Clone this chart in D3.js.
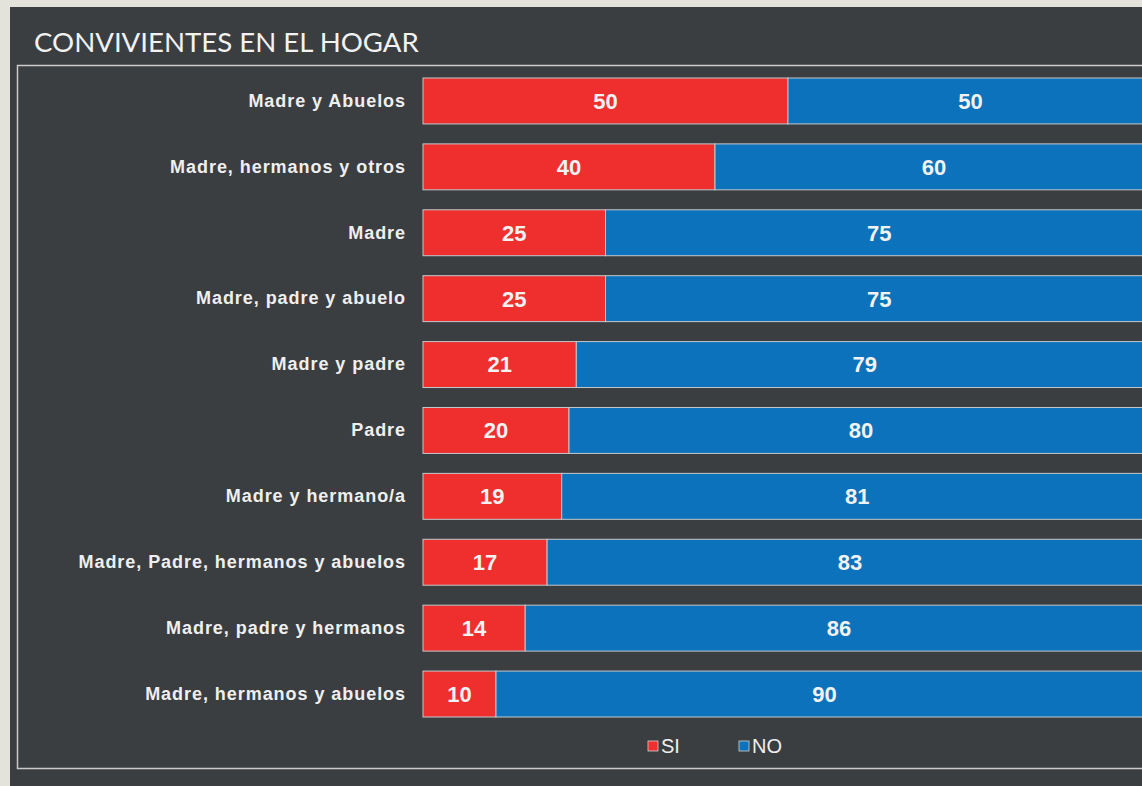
<!DOCTYPE html>
<html>
<head>
<meta charset="utf-8">
<title>Convivientes en el hogar</title>
<style>
    body { margin: 0; background: #e3e3dc; }
    .title { fill: #f2f2f2; font-family: Lato, "Open Sans", sans-serif; font-size: 27.6px; }
    .cat text { fill: #efefef; font-family: "Liberation Sans", Arial, sans-serif; font-weight: bold; font-size: 18px; letter-spacing: 0.95px; }
    .val { fill: #f2f2f2; font-family: "Liberation Sans", Arial, sans-serif; font-weight: bold; font-size: 22px; text-anchor: middle; }
    .legendText { fill: #efefef; font-family: "Liberation Sans", Arial, sans-serif; font-size: 20px; }
</style>
</head>
<body>
<script src="https://cdn.jsdelivr.net/npm/d3@7"></script>
<script>
    // data
    const categories = ["Madre y Abuelos", "Madre, hermanos y otros", "Madre", "Madre, padre y abuelo",
        "Madre y padre", "Padre", "Madre y hermano/a", "Madre, Padre, hermanos y abuelos",
        "Madre, padre y hermanos", "Madre, hermanos y abuelos"];
    const si = [50, 40, 25, 25, 21, 20, 19, 17, 14, 10];
    const no = [50, 60, 75, 75, 79, 80, 81, 83, 86, 90];
    const seriesNames = ["SI", "NO"];
    const colors = ["#ee2f2e", "#0c72bb"];

    const W = 1142, H = 786;
    const svg = d3.select("body").append("svg").attr("width", W).attr("height", H).style("display", "block");

    svg.append("rect").attr("x", 10).attr("y", 7).attr("width", W - 10).attr("height", H - 7).attr("fill", "#3b3e41");
    svg.append("rect").attr("x", 17.5).attr("y", 65.5).attr("width", 1160).attr("height", 703)
        .attr("fill", "none").attr("stroke", "#c9c9c9").attr("stroke-width", 1.5);

    svg.append("text").attr("class", "title").attr("x", 34).attr("y", 52).text("CONVIVIENTES EN EL HOGAR");

    const x = d3.scaleLinear().domain([0, 100]).range([423, 1153]);
    const y = d3.scaleBand().domain(categories).range([78, 717]).paddingInner(20 / 66).paddingOuter(0);

    const rows = categories.map((c, i) => ({cat: c, si: si[i], no: no[i]}));
    const stack = d3.stack().keys(["si", "no"])(rows);

    const layer = svg.selectAll(".layer").data(stack).enter().append("g")
        .attr("fill", (d, i) => colors[i]);

    layer.selectAll("rect").data(d => d).enter().append("rect")
        .attr("x", d => x(d[0]))
        .attr("y", d => y(d.data.cat))
        .attr("width", d => x(d[1]) - x(d[0]))
        .attr("height", y.bandwidth())
        .attr("stroke", "#c4c8cc")
        .attr("stroke-width", 1);

    layer.selectAll(".val").data(d => d).enter().append("text")
        .attr("class", "val")
        .attr("x", d => (x(d[0]) + x(d[1])) / 2)
        .attr("y", d => y(d.data.cat) + y.bandwidth() / 2)
        .attr("dy", "0.36em")
        .text(d => d[1] - d[0]);

    const yAxis = svg.append("g").attr("class", "cat")
        .attr("transform", "translate(423,0)")
        .call(d3.axisLeft(y).tickSize(0).tickPadding(17));
    yAxis.select(".domain").remove();

    const legend = svg.selectAll(".legend").data(seriesNames).enter().append("g")
        .attr("transform", (d, i) => "translate(648," + 741 + ")translate(" + (i * 91) + ",0)");
    legend.append("rect").attr("width", 10).attr("height", 10)
        .attr("fill", (d, i) => colors[i]).attr("stroke", "#d0d0d0").attr("stroke-width", 0.8);
    legend.append("text").attr("class", "legendText").attr("x", 13).attr("y", 12).text(d => d);
</script>
</body>
</html>
